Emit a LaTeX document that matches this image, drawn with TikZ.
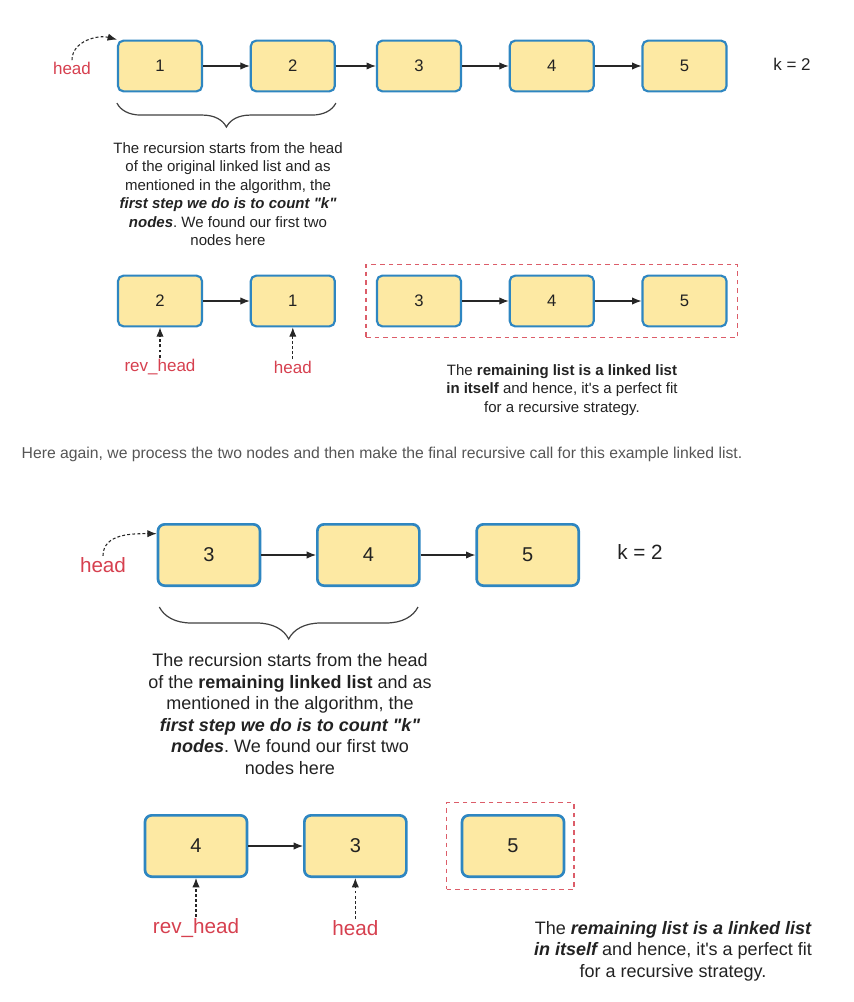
\documentclass[tikz,border=0pt]{standalone}
\usepackage{fontspec}
\setmainfont{Liberation Sans}[Ligatures=TeXOff]
\usetikzlibrary{positioning,arrows.meta,decorations.pathreplacing,fit}
\definecolor{boxfill}{HTML}{FDE9A3}
\definecolor{boxline}{HTML}{2E86C1}
\definecolor{ptrred}{HTML}{D6404F}
\definecolor{txt}{HTML}{222222}
\definecolor{note}{HTML}{555555}
\frenchspacing

\begin{document}
\begin{tikzpicture}[x=0.75pt,y=-0.75pt,
  lnode/.style={draw=boxline,fill=boxfill,line width=1.6pt,rounded corners=4pt,
    minimum width=63pt,minimum height=38pt,inner sep=0pt,text=txt,
    font=\fontsize{12.5}{15}\selectfont},
  bignode/.style={lnode,line width=2pt,rounded corners=5pt,
    minimum width=76.5pt,minimum height=46pt,font=\fontsize{15}{18}\selectfont},
  link/.style={-{Latex[length=7pt,width=5.5pt]},line width=0.8pt,black!85},
  ptr/.style={link,dash pattern=on 2.2pt off 1.6pt},
  ptrlabel/.style={text=ptrred,inner sep=1pt,font=\fontsize{12.75}{15}\selectfont},
  bigptrlabel/.style={ptrlabel,font=\fontsize{15.5}{18}\selectfont},
  redbox/.style={draw=ptrred!85,line width=1pt,dash pattern=on 3.5pt off 3pt},
  brace/.style={decorate,decoration={brace,mirror,amplitude=#1},line width=0.9pt,black!75},
  note/.style={align=center,text=txt,font=\fontsize{11.25}{13.9}\selectfont},
  bignote/.style={note,font=\fontsize{13.5}{16.2}\selectfont},
  kval/.style={text=txt,font=\fontsize{12.75}{15}\selectfont}]
\useasboundingbox (0,0) rectangle (853,1002);

\node[lnode] (a1) at (160,66) {1};
\node[lnode, right=35pt of a1] (a2) {2};
\node[lnode, right=30pt of a2] (a3) {3};
\node[lnode, right=35pt of a3] (a4) {4};
\node[lnode, right=35pt of a4] (a5) {5};
\node[kval] (k1) at (792,64) {k = 2};
\node[ptrlabel] (h1) at (72,68) {head};
\draw[ptr] (h1.north) to[out=90,in=165] (a1.north west);
\draw[link] (a1) -- (a2);
\draw[link] (a2) -- (a3);
\draw[link] (a3) -- (a4);
\draw[link] (a4) -- (a5);
\draw[brace=18pt] ([yshift=-8pt]a1.south west) -- ([yshift=-8pt]a2.south east);
\node[note] (t1) at (228,194) {The recursion starts from the head\\
  of the original linked list and as\\
  mentioned in the algorithm, the\\
  {\bfseries\itshape first step we do is to count "k"}\\
  {\bfseries\itshape nodes}. We found our first two\\
  nodes here};

\node[lnode] (b2) at (160,301) {2};
\node[lnode, right=35pt of b2] (b1) {1};
\node[lnode, right=30pt of b1] (b3) {3};
\node[lnode, right=35pt of b3] (b4) {4};
\node[lnode, right=35pt of b4] (b5) {5};
\node[redbox, fit=(b3)(b5), inner sep=7.5pt] (rest1) {};
\draw[link] (b2) -- (b1);
\draw[link] (b3) -- (b4);
\draw[link] (b4) -- (b5);
\node[ptrlabel] (rh1) at (160,367) {rev\_head};
\node[ptrlabel] (h2) at (b1 |- rh1) {head};
\draw[ptr] (rh1.north) -- (b2.south);
\draw[ptr] (h2.north) -- (b1.south);
\node[note] (t2) at (562,390) {The \textbf{remaining list is a linked list}\\
  \textbf{in itself} and hence, it's a perfect fit\\
  for a recursive strategy.};

\node[anchor=west, text=note, font=\fontsize{11.8}{14}\selectfont] (mid) at (17,454)
  {Here again, we process the two nodes and then make the final recursive call for this example linked list.};

\node[bignode] (c3) at (209,555) {3};
\node[bignode, right=41pt of c3] (c4) {4};
\node[bignode, right=41pt of c4] (c5) {5};
\node[kval, font=\fontsize{15.5}{18}\selectfont] (k2) at (640,552) {k = 2};
\node[bigptrlabel] (h3) at (103,565) {head};
\draw[ptr] (h3.north) to[out=90,in=180] ([yshift=-8pt]c3.north west);
\draw[link] (c3) -- (c4);
\draw[link] (c4) -- (c5);
\draw[brace=24pt] ([xshift=2pt,yshift=-15pt]c3.south west) -- ([xshift=-2pt,yshift=-15pt]c4.south east);
\node[bignote] (t3) at (290,714) {The recursion starts from the head\\
  of the \textbf{remaining linked list} and as\\
  mentioned in the algorithm, the\\
  {\bfseries\itshape first step we do is to count "k"}\\
  {\bfseries\itshape nodes}. We found our first two\\
  nodes here};

\node[bignode] (d4) at (196,846) {4};
\node[bignode, right=41pt of d4] (d3) {3};
\node[bignode] (d5) at (513,846) {5};
\node[redbox, fit=(d5), inner sep=8.5pt, xshift=-2pt] (rest2) {};
\draw[link] (d4) -- (d3);
\node[bigptrlabel] (rh2) at (196,928) {rev\_head};
\node[bigptrlabel] (h4) at (d3 |- rh2) {head};
\draw[ptr] (rh2.north) -- (d4.south);
\draw[ptr] (h4.north) -- (d3.south);
\node[bignote] (t4) at (673,951) {The {\bfseries\itshape remaining list is a linked list}\\
  {\bfseries\itshape in itself} and hence, it's a perfect fit\\
  for a recursive strategy.};
\end{tikzpicture}
\end{document}
